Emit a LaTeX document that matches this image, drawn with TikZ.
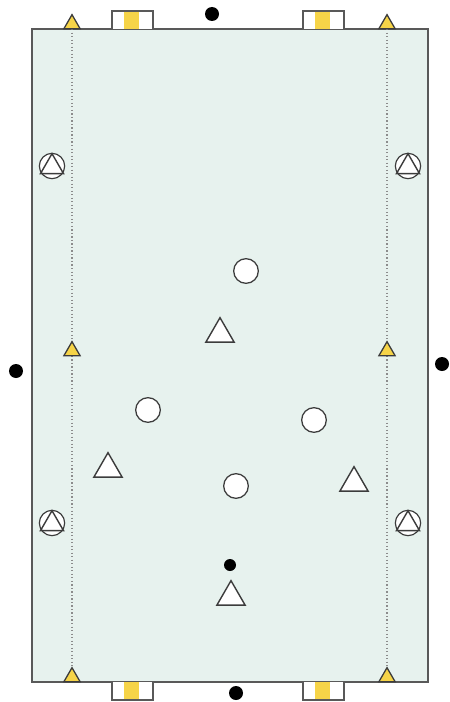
\documentclass[tikz,border=0pt]{standalone}
\usetikzlibrary{shapes.geometric}
\definecolor{pitchfill}{RGB}{231,242,238}
\definecolor{coneyellow}{RGB}{246,212,72}
\definecolor{linegray}{RGB}{60,60,60}
\tikzset{
  ring/.style={circle, draw=linegray, fill=white, line width=1.1pt, minimum size=0.74cm, inner sep=0pt},
  tri/.style={regular polygon, regular polygon sides=3, draw=linegray, fill=white, line width=1.2pt, minimum size=0.98cm, inner sep=0pt},
  cone/.style={regular polygon, regular polygon sides=3, draw=linegray, fill=coneyellow, line width=1.1pt, minimum size=0.56cm, inner sep=0pt},
  ball/.style={circle, fill=black, minimum size=0.36cm, inner sep=0pt},
  coach/.style={circle, fill=black, minimum size=0.42cm, inner sep=0pt},
  keeper/.style={circle, draw=linegray, fill=white, line width=1pt, minimum size=0.76cm, inner sep=0pt}
}
\begin{document}
\begin{tikzpicture}[x=0.03cm, y=-0.03cm]
        \useasboundingbox (0,0) rectangle (449,702);

        % Spielfeld
        \draw[line width=1.3pt, draw=linegray!85, fill=pitchfill] (32,29) rectangle (428,682);

        % Tore oben und unten
        \foreach \gx in {112,303} {
          \fill[white] (\gx,11) rectangle ++(41,18);
          \fill[coneyellow] (\gx+12,11) rectangle ++(15,18);
          \draw[linegray!85, line width=1pt] (\gx,29) -- (\gx,11) -- (\gx+41,11) -- (\gx+41,29);
          \fill[white] (\gx,682) rectangle ++(41,18);
          \fill[coneyellow] (\gx+12,682) rectangle ++(15,18);
          \draw[linegray!85, line width=1pt] (\gx,682) -- (\gx,700) -- (\gx+41,700) -- (\gx+41,682);
        }

        % Seitenzonen (gepunktet)
        \draw[dotted, gray!90, line width=1pt] (72,29) -- (72,682);
        \draw[dotted, gray!90, line width=1pt] (387,29) -- (387,682);

        % Huetchen
        \node[cone] (hlo) at (72,24) {};
        \node[cone] (hlm) at (72,351) {};
        \node[cone] (hlu) at (72,677) {};
        \node[cone] (hro) at (387,24) {};
        \node[cone] (hrm) at (387,351) {};
        \node[cone] (hru) at (387,677) {};

        % Baelle / Trainer aussen
        \node[coach] (bo) at (212,14) {};
        \node[coach] (bu) at (236,693) {};
        \node[coach] (bl) at (16,371) {};
        \node[coach] (br) at (442,364) {};

        % Anspieler auf den Seiten (Kreis + Dreieck)
        \node[keeper] (alo) at (52,166) {};
        \node[tri, minimum size=0.8cm, fill=none] at (52,167) {};
        \node[keeper] (aro) at (408,166) {};
        \node[tri, minimum size=0.8cm, fill=none] at (408,167) {};
        \node[keeper] (alu) at (52,523) {};
        \node[tri, minimum size=0.8cm, fill=none] at (52,524) {};
        \node[keeper] (aru) at (408,523) {};
        \node[tri, minimum size=0.8cm, fill=none] at (408,524) {};

        % Team Kreis
        \node[ring] (k1) at (246,271) {};
        \node[ring] (k2) at (148,410) {};
        \node[ring] (k3) at (314,420) {};
        \node[ring] (k4) at (236,486) {};

        % Team Dreieck
        \node[tri] (d1) at (220,334) {};
        \node[tri] (d2) at (108,469) {};
        \node[tri] (d3) at (354,483) {};
        \node[tri] (d4) at (231,597) {};

        % Ball
        \node[ball] (ball) at (230,565) {};
    \end{tikzpicture}
\end{document}
